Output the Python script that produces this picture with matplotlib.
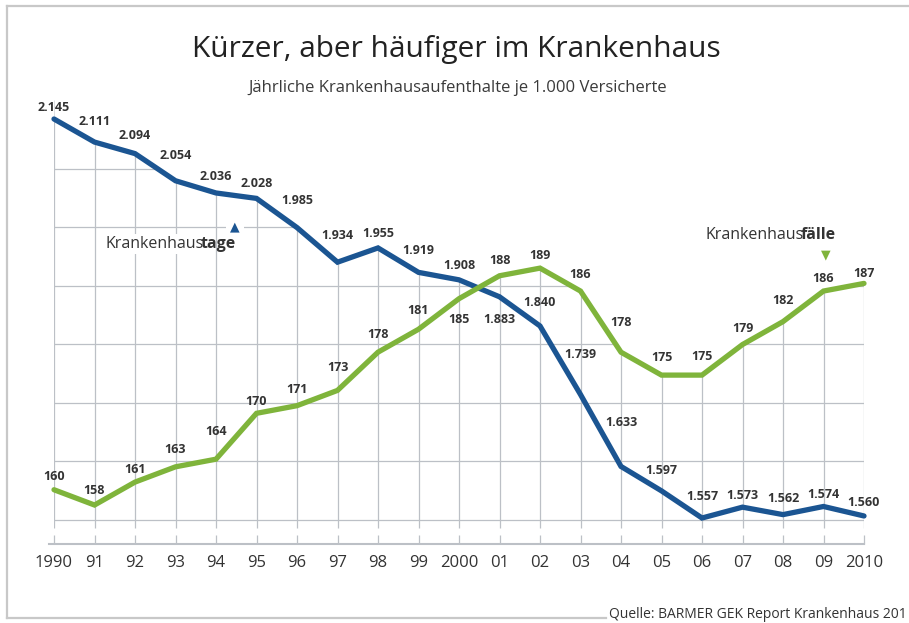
import numpy as np
import matplotlib
matplotlib.use("Agg")
import matplotlib.pyplot as plt
from matplotlib.lines import Line2D

plt.rcParams['font.family'] = ['Open Sans', 'DejaVu Sans']

years = list(range(1990, 2011))
tick_labels = ["1990", "91", "92", "93", "94", "95", "96", "97", "98", "99", "2000",
               "01", "02", "03", "04", "05", "06", "07", "08", "09", "2010"]
tage = [2145, 2111, 2094, 2054, 2036, 2028, 1985, 1934, 1955, 1919, 1908,
        1883, 1840, 1739, 1633, 1597, 1557, 1573, 1562, 1574, 1560]
faelle = [160, 158, 161, 163, 164, 170, 171, 173, 178, 181, 185,
          188, 189, 186, 178, 175, 175, 179, 182, 186, 187]

# label offsets in pixels above the point (negative = below)
tage_dy = [12, 21, 18, 25, 16, 15, 27, 27, 14, 22, 14, -23, 23, 40, 44, 20, 22, 12, 16, 12, 13]
faelle_dy = [13, 15, 13, 17, 28, 12, 16, 23, 18, 19, -21, 15, 13, 17, 30, 18, 19, 16, 21, 13, 10]

BLUE = "#1b5592"
GREEN = "#7fb43b"
GRID = "#bcc0c6"
TXT = "#333333"

W, H = 909, 623
def fx(x): return x / W
def fy(y): return 1 - y / H

fig = plt.figure(figsize=(W / 100, H / 100), dpi=100)

ax = fig.add_axes([fx(54), fy(544), (864 - 54) / W, (544 - 100) / H])
ax2 = ax.twinx()
blim = (1518.7, 2173.0)
glim = (152.9, 211.0)
ax.set_xlim(1990, 2010)
ax.set_ylim(*blim)
ax2.set_ylim(*glim)

# grid (axes fraction)
hgrid = [(544 - p) / 444 for p in [169, 227, 286, 344, 403, 461, 520]]
xt = ax.get_xaxis_transform()
ax.hlines(hgrid, 1990, 2010, transform=xt, color=GRID, lw=0.9, zorder=1)
ax.vlines(years, (544 - 528) / 444, 1, transform=xt, color=GRID, lw=0.9, zorder=1)

# mask grid above the two lines
xd = np.linspace(1990, 2010, 2001)
bfrac = (np.array(tage) - blim[0]) / (blim[1] - blim[0])
gfrac = (np.array(faelle) - glim[0]) / (glim[1] - glim[0])
env = np.maximum(np.interp(xd, years, bfrac), np.interp(xd, years, gfrac))
ax.fill_between(xd, env, 1.1, transform=xt, color="white", lw=0, zorder=2)

# axis line
ax.plot([-5 / 810, 1], [0, 0], transform=ax.transAxes, color=GRID, lw=1.5,
        clip_on=False, zorder=4)

ax.plot(years, tage, color=BLUE, lw=3.8, solid_capstyle="round",
        solid_joinstyle="miter", clip_on=False, zorder=5)
ax2.plot(years, faelle, color=GREEN, lw=3.8, solid_capstyle="round",
         solid_joinstyle="miter", clip_on=False, zorder=5)

for x, v, dy in zip(years, tage, tage_dy):
    ax.annotate(f"{v / 1000:.3f}", (x, v), xytext=(0, dy), textcoords="offset pixels",
                ha="center", va="center", fontsize=9, fontweight="bold", color=TXT,
                zorder=6, annotation_clip=False)
for x, v, dy in zip(years, faelle, faelle_dy):
    ax2.annotate(str(v), (x, v), xytext=(0, dy), textcoords="offset pixels",
                 ha="center", va="center", fontsize=9, fontweight="bold", color=TXT,
                 zorder=6, annotation_clip=False)

ax.set_xticks(years, labels=tick_labels)
ax.tick_params(axis="x", direction="in", length=6.5, width=0.9, color=GRID,
               pad=8, labelsize=12, labelcolor=TXT)
ax.set_yticks([])
ax2.set_yticks([])
for a in (ax, ax2):
    for s in a.spines.values():
        s.set_visible(False)

# titles
fig.text(fx(456), fy(49), "Kürzer, aber häufiger im Krankenhaus",
         fontsize=21.5, color="#222222", ha="center", va="center")
fig.text(fx(458), fy(88), "Jährliche Krankenhausaufenthalte je 1.000 Versicherte",
         fontsize=12, color="#3a3a3a", ha="center", va="center")

# series labels
wb = dict(facecolor="white", edgecolor="none", pad=1.5)
fig.text(fx(204), fy(244), "Krankenhaus", fontsize=11.5, color=TXT, ha="right",
         va="center", bbox=wb)
fig.text(fx(201), fy(244), "tage", fontsize=11.5, color=TXT, ha="left",
         va="center", fontweight="bold")
fig.text(fx(235), fy(227), "▲", family="DejaVu Sans", fontsize=9, color=BLUE,
         ha="center", va="center", bbox=dict(facecolor="white", edgecolor="none", pad=3))
fig.text(fx(804), fy(235), "Krankenhaus", fontsize=11.5, color=TXT, ha="right",
         va="center", bbox=wb)
fig.text(fx(801), fy(235), "fälle", fontsize=11.5, color=TXT, ha="left",
         va="center", fontweight="bold")
fig.text(fx(826), fy(255), "▼", family="DejaVu Sans", fontsize=9, color=GREEN,
         ha="center", va="center")

# frame
FR = "#c8c8c8"
fig.add_artist(Line2D([fx(7), fx(909)], [fy(6), fy(6)], color=FR, lw=1.6))
fig.add_artist(Line2D([fx(7), fx(7)], [fy(6), fy(618)], color=FR, lw=1.6))
fig.add_artist(Line2D([fx(7), fx(606)], [fy(618), fy(618)], color=FR, lw=1.6))
fig.text(fx(907), fy(615), "Quelle: BARMER GEK Report Krankenhaus 201",
         fontsize=10, color=TXT, ha="right", va="center")

fig.savefig("out.png", dpi=100)
